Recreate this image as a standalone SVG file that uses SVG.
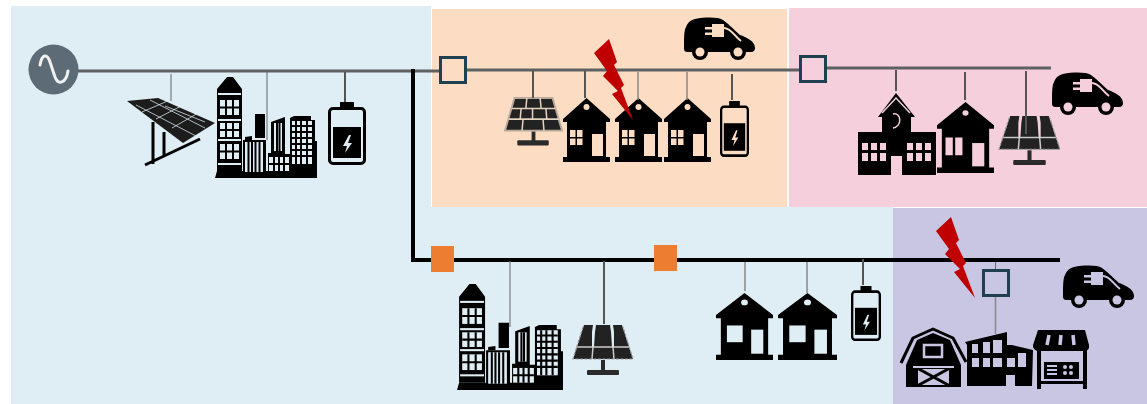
<svg xmlns="http://www.w3.org/2000/svg" xmlns:xlink="http://www.w3.org/1999/xlink" width="1147" height="404" viewBox="0 0 1147 404">
<style>
.bus{stroke:#5f6062;stroke-width:3;fill:none}
.feeder{stroke:#000;stroke-width:4;fill:none}
.d1{stroke:#666;stroke-width:1;fill:none}
.d2{stroke:#555;stroke-width:2;fill:none}
.d3{stroke:#888;stroke-width:1.5;fill:none}
.sw{stroke:#1f4050;stroke-width:3}
.on{color:#dfedf4}.oo{color:#fcdcc2}.op{color:#f6cfdc}.ov{color:#c9c6e3}
.on,.oo,.op,.ov,.ic{filter:url(#soft)}
.hole{fill:currentColor}
.lt{fill:#dfedf4}
</style>
<defs>
<filter id="soft" x="-5%" y="-5%" width="110%" height="110%"><feGaussianBlur stdDeviation="0.4"/></filter>
<symbol id="house4" viewBox="0 0 47 64" preserveAspectRatio="none">
<path d="M23.500 0L47 21V24H43V59H47V64H0V59H4V24H0V21Z"/>
<g class="hole"><circle cx="23.500" cy="9" r="3"/><rect x="7" y="32" width="5.500" height="7"/><rect x="14" y="32" width="5.500" height="7"/><rect x="7" y="40.500" width="5.500" height="6.500"/><rect x="14" y="40.500" width="5.500" height="6.500"/><rect x="29" y="36" width="11" height="22"/></g>
</symbol>
<symbol id="house2" viewBox="0 0 47 64" preserveAspectRatio="none">
<path d="M23.500 0L47 21V24H43V59H47V64H0V59H4V24H0V21Z"/>
<g class="hole"><circle cx="23.500" cy="10" r="2.500"/><rect x="7" y="32" width="6" height="16"/><rect x="15" y="32" width="6" height="16"/><rect x="29" y="37" width="10" height="21"/></g>
</symbol>
<symbol id="house1" viewBox="0 0 47 64" preserveAspectRatio="none">
<path d="M23.500 0L47 21V24H43V59H47V64H0V59H4V24H0V21Z"/>
<g class="hole"><circle cx="23.500" cy="9" r="2.800"/><rect x="9" y="31" width="13" height="16"/><rect x="29" y="35" width="10" height="23"/></g>
</symbol>
<symbol id="solarA" viewBox="0 0 62 52" preserveAspectRatio="none">
<path d="M11 1H51L61 35H1Z" fill="#222" stroke="#b9aa9c" stroke-width="2" stroke-linejoin="round"/>
<path d="M8 12H54M5 23H58M24 1L23 12M38 1L39 12M18 12L17 23M30 12V23M44 12L45 23M20 23L19 35M41 23L42 35" stroke="#e4d2bf" stroke-width="1.600" fill="none"/>
<rect x="29" y="36" width="4" height="10" fill="#2b2b2b"/><rect x="14" y="45" width="33" height="5.500" rx="1" fill="#2b2b2b"/>
</symbol>
<symbol id="solarB" viewBox="0 0 62 52" preserveAspectRatio="none">
<path d="M12 1H50L61 35H1Z" fill="#222"/>
<g class="hole"><path d="M21 1h3l-1 7l-1 15h-2l0-15zM41 1h-3l1 7l1 15h2l0-15z"/></g>
<path d="M5 23H57M21 23L20 35M41 23L42 35" stroke="#ddd" stroke-opacity=".9" stroke-width="1.500" fill="none"/>
<path d="M11 3L1 35H61L51 3" fill="none" stroke="#999" stroke-width="1.200" stroke-dasharray="3 1.500"/>
<rect x="29" y="36" width="4" height="10" fill="#2b2b2b"/><rect x="15" y="46" width="32" height="5" rx="1" fill="#2b2b2b"/>
</symbol>
<symbol id="battery" viewBox="0 0 38 63" preserveAspectRatio="none">
<rect x="12" y="0" width="14" height="7"/>
<rect x="1.500" y="6.500" width="35" height="55" rx="3.500" fill="none" stroke="#000" stroke-width="3"/>
<rect x="5" y="25" width="28" height="31"/>
<path class="hole" d="M21 33L15 44H19L17 51L24 41H20L23 33Z"/>
</symbol>
<symbol id="car" viewBox="0 0 71 43" preserveAspectRatio="none">
<path d="M0 31C0 22 0 13 2 10C4 5 7 3 11 2C22 0 34 0 39 3C45 7 51 14 56 18C62 20 71 24 71 31C71 33 70 35 67 35H4C1 35 0 34 0 31Z"/>
<circle cx="16" cy="35" r="8"/><circle cx="54" cy="35" r="8"/>
<g class="hole"><circle cx="16" cy="35" r="4.500"/><circle cx="54" cy="35" r="4.500"/>
<rect x="28" y="7" width="12" height="13"/><rect x="21" y="10" width="8" height="2.500"/><rect x="21" y="15.500" width="8" height="2.500"/></g>
<path d="M40 11C47 11 50 19 57 24" fill="none" stroke="currentColor" stroke-width="2"/>
</symbol>
<symbol id="city" viewBox="0 0 102 102" preserveAspectRatio="none">
<path d="M2 13L12 1H18L27 13V95H2ZM40 38H50V62H40ZM30 61L37 60V64H30Z"/>
<path d="M28 64H51V97H28ZM56 46L70 41V78H75V42L79 40H96V44H100V65H102V102H0L2 95H53V77H56Z"/>
<rect class="lt" x="3" y="17" width="23" height="2"/><rect class="lt" x="3" y="43" width="23" height="2"/><rect class="lt" x="3" y="63" width="23" height="2"/><rect class="lt" x="3" y="87" width="23" height="2"/>
<g class="lt"><rect x="5" y="24" width="19" height="15"/><rect x="5" y="47" width="19" height="14"/><rect x="5" y="68" width="19" height="15"/><rect x="30" y="66" width="18" height="30"/><rect x="59" y="47" width="8" height="28"/><rect x="54" y="81" width="20" height="14"/><rect x="77" y="45" width="20" height="43"/></g>
<path d="M11 24V39M18 24V39M5 31.500H24M11 47V61M18 47V61M5 54H24M11 68V83M18 68V83M5 75.500H24M33.500 66V96M37 66V96M40.500 66V96M44.500 66V96M62 47V75M64.500 47V75M54 88H74M59 81V95M64 81V95M69 81V95M77 50H97M77 56H97M77 62H97M77 68H97M77 74H97M77 80H97M81 45V88M86 45V88M92 45V88" stroke="#000" stroke-width="2" fill="none"/>
</symbol>
<polygon id="bolt" fill="#c00000" points="609,39 617,62 614,65 624,85 621,88 633,120 612,94 618,91 603,76 607,71 594,53"/>
</defs>

<g id="backgrounds">
<rect x="11" y="6" width="420" height="398" fill="#dfedf4"/>
<rect x="431" y="207" width="462" height="197" fill="#dfedf4"/>
<rect x="432" y="9" width="355" height="198" fill="#fcdcc2"/>
<rect x="789" y="8" width="358" height="199" fill="#f6cfdc"/>
<rect x="893" y="208" width="254" height="196" fill="#c9c6e3"/>
</g>

<g id="source"><circle cx="53.500" cy="69.500" r="25" fill="#5c6b75"/><path d="M40 65C42 54 47 53 50 62L55 77C58 85 66 84 68 71" fill="none" stroke="#f0f0f0" stroke-width="3" stroke-linecap="round"/></g>

<g id="solar-tilted" class="ic">
<path d="M127 101L158 98L215 123L183 143Z" fill="#1c1c1c"/>
<path d="M136 105L196 136M150 100L205 128M142 112L170 100M156 119L185 104M172 128L200 112M165 106L205 122" stroke="#dfedf4" stroke-width="1" stroke-opacity=".75" fill="none"/>
<path d="M153 122V164M164 132V155M145 165L200 139" stroke="#000" stroke-width="3" fill="none"/>
</g>
<g id="city-1" class="ic"><use xlink:href="#city" href="#city" x="215" y="76" width="102" height="102"/></g>
<g id="battery-1" class="on"><use xlink:href="#battery" href="#battery" x="328" y="102" width="38" height="63"/></g>

<g id="solar-2" class="oo"><use xlink:href="#solarA" href="#solarA" x="504" y="97" width="59" height="50"/></g>
<g id="house-1" class="oo"><use xlink:href="#house4" href="#house4" x="563" y="98" width="47" height="64"/></g>
<g id="house-2" class="oo"><use xlink:href="#house4" href="#house4" x="615" y="98" width="47" height="64"/></g>
<g id="house-3" class="oo"><use xlink:href="#house4" href="#house4" x="664" y="98" width="47" height="64"/></g>
<g id="battery-2" class="oo"><use xlink:href="#battery" href="#battery" x="720" y="101" width="29" height="56"/></g>
<g id="car-1" class="oo"><use xlink:href="#car" href="#car" x="684" y="17" width="71" height="43"/></g>

<g id="school" class="ic">
<path d="M858 132H882V117H878L896 93L915 117H911V132H936V175H902V156H891V175H858Z"/>
<g fill="#f6cfdc"><rect x="862" y="143" width="6" height="7"/><rect x="871" y="143" width="6" height="7"/><rect x="880" y="143" width="6" height="7"/><rect x="862" y="153" width="6" height="8"/><rect x="871" y="153" width="6" height="8"/><rect x="880" y="153" width="6" height="8"/><rect x="907" y="143" width="6" height="7"/><rect x="916" y="143" width="6" height="7"/><rect x="925" y="143" width="6" height="7"/><rect x="907" y="153" width="6" height="8"/><rect x="916" y="153" width="6" height="8"/><rect x="925" y="153" width="6" height="8"/></g>
<path d="M882 113L896 98L910 113" fill="none" stroke="#f6cfdc" stroke-width="1.500"/>
<path d="M893 114C902 112 902 127 893 128" fill="none" stroke="#f6cfdc" stroke-width="1.500"/>
</g>
<g id="house-4" class="op"><use xlink:href="#house2" href="#house2" x="937" y="102" width="57" height="71"/></g>
<g id="solar-3" class="op"><use xlink:href="#solarB" href="#solarB" x="998" y="115" width="63" height="51"/></g>
<g id="car-2" class="op"><use xlink:href="#car" href="#car" x="1052" y="72" width="71" height="43"/></g>

<g id="city-2" class="ic"><use xlink:href="#city" href="#city" x="457" y="283" width="106" height="107"/></g>
<g id="solar-4" class="on"><use xlink:href="#solarB" href="#solarB" x="572" y="324" width="62" height="52"/></g>
<g id="house-5" class="on"><use xlink:href="#house1" href="#house1" x="716" y="293" width="57" height="67"/></g>
<g id="house-6" class="on"><use xlink:href="#house1" href="#house1" x="778" y="293" width="59" height="67"/></g>
<g id="battery-3" class="on"><use xlink:href="#battery" href="#battery" x="851" y="286" width="30" height="55"/></g>
<g id="car-3" class="ov"><use xlink:href="#car" href="#car" x="1063" y="265" width="71" height="43"/></g>

<g id="barn" class="ic">
<path d="M901 363L913 338L933 329L953 338L966 362" fill="none" stroke="#000" stroke-width="3" stroke-linejoin="round"/>
<path d="M906 387V365L917 340L933 333L950 340L961 365V387Z"/>
<rect x="924" y="345" width="18" height="12" fill="none" stroke="#c9c6e3" stroke-width="2.500"/>
<rect x="917" y="368" width="33" height="18" fill="#c9c6e3"/>
<path d="M917 368L950 386M950 368L917 386" stroke="#000" stroke-width="3"/>
<rect x="917" y="368" width="33" height="18" fill="none" stroke="#000" stroke-width="2"/>
<rect x="913" y="366" width="41" height="2" fill="#c9c6e3"/>
</g>
<g id="greenhouse" class="ic">
<path d="M965 342L1007 332V345L1012 345L1033 350L1032 386H1015V375H1006V386H967V345Z"/>
<g fill="#c9c6e3"><rect x="972" y="344" width="6" height="9"/><rect x="983" y="342" width="7" height="11"/><rect x="993" y="340" width="9" height="13"/><rect x="972" y="358" width="7" height="9"/><rect x="983" y="358" width="7" height="9"/><rect x="993" y="358" width="9" height="9"/><rect x="1007" y="358" width="8" height="9"/><rect x="1018" y="353" width="8" height="14"/></g>
</g>
<g id="shop" class="ic">
<path d="M1038 330H1085L1089 345V348C1087 352 1083 352 1081 349C1078 352 1074 352 1072 349C1069 352 1065 352 1061 349C1058 352 1054 352 1052 349C1049 352 1045 352 1042 349C1040 352 1035 352 1033 347V345Z"/>
<path d="M1037 346H1087V389H1083V384H1041V389H1037Z"/>
<path d="M1047 345L1049 335M1060 345L1061 335M1074 345L1073 335" stroke="#c9c6e3" stroke-width="3.500" fill="none"/>
<rect x="1041" y="351" width="42" height="30" fill="#c9c6e3"/>
<rect x="1044" y="362" width="35" height="17"/>
<rect x="1041" y="381" width="42" height="3"/>
<g fill="#c9c6e3"><rect x="1047" y="365" width="10" height="2"/><rect x="1047" y="369" width="10" height="2"/><rect x="1047" y="373" width="10" height="2"/><circle cx="1065" cy="367" r="2"/><circle cx="1071" cy="367" r="2"/><circle cx="1065" cy="373" r="2"/><circle cx="1071" cy="373" r="2"/></g>
</g>

<g id="connectors">
<path class="bus" d="M78 71H440M467 70H800M827 68H1051"/>
<path class="feeder" d="M413 69V260M411 260H1060"/>
<path class="d1" d="M171 74V101M267 72V140M510 261V327M995.500 262V269"/>
<path class="d3" d="M638 72V100M687 72V100M745 262V291M807 262V293M995.500 297V334"/>
<path class="d2" d="M345 72V102M533 71V98M585 71V98M732 74V100M896 70V91M965 72V100M1026 71V134M604 261V324M863 259V285"/>
</g>

<g id="switch-1"><rect class="sw" x="440.500" y="57.500" width="25" height="25" fill="#fcdcc2"/></g>
<g id="switch-2"><rect class="sw" x="800.500" y="56.500" width="25" height="25" fill="#f6cfdc"/></g>
<g id="switch-3"><rect class="sw" x="983.500" y="270.500" width="25" height="25" fill="#c9c6e3"/></g>
<g id="breaker-1"><rect x="431" y="246" width="23" height="26" fill="#ed7d31"/></g>
<g id="breaker-2"><rect x="654" y="245" width="23" height="26" fill="#ed7d31"/></g>

<g id="fault-1"><use xlink:href="#bolt" href="#bolt"/></g>
<g id="fault-2"><use xlink:href="#bolt" href="#bolt" x="342" y="178"/></g>
</svg>
